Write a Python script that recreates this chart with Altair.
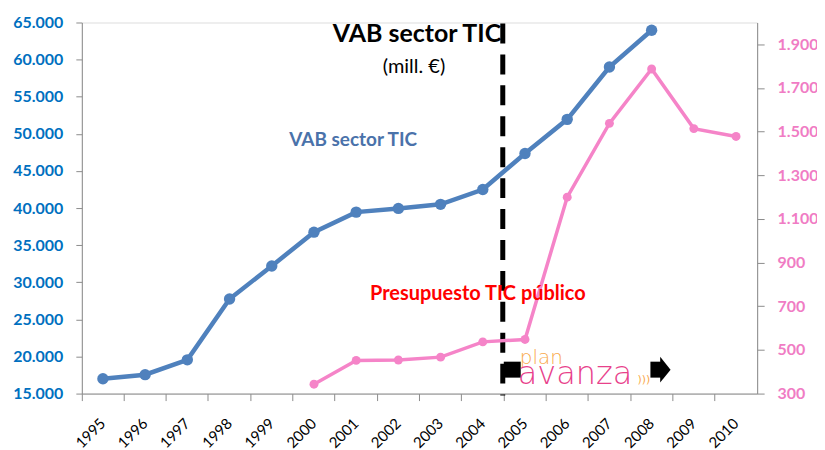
import altair as alt
import pandas as pd

years = [str(y) for y in range(1995, 2011)]
vab_years = years[:14]
vab_values = [17000, 17550, 19550, 27750, 32200, 36750, 39450, 39950, 40500, 42500, 47350, 51950, 59000, 63950]
pres_years = years[5:]
pres_values = [343, 452, 454, 467, 537, 548, 1200, 1538, 1787, 1514, 1478]
left_ticks = list(range(15000, 65001, 5000))
right_ticks = list(range(300, 1901, 200))

BLUE = "#4F81BD"
PINK = "#F584C8"
FONT = "Lato"

vab_df = pd.DataFrame({"year": vab_years, "value": vab_values})
pres_df = pd.DataFrame({"year": pres_years, "value": pres_values})
one = pd.DataFrame({"a": [0]})

x_enc = alt.X(
    "year:O",
    bandPosition=0.5,
    scale=alt.Scale(type="band", domain=years, paddingInner=0, paddingOuter=0),
    axis=alt.Axis(
        title=None, bandPosition=0, labelOffset=0, labelAngle=-45, labelAlign="right",
        labelBaseline="middle", labelPadding=20, labelFont=FONT, labelFontSize=15,
        labelColor="black", tickSize=7, tickColor="#8c8c8c", domainColor="#8c8c8c",
        grid=False,
    ),
)
fmt = "replace(format(datum.value, ','), ',', '.')"

vab = alt.Chart(vab_df).mark_line(
    color=BLUE, strokeWidth=4.5,
    point=alt.OverlayMarkDef(filled=True, size=130, color=BLUE, opacity=1),
).encode(
    x=x_enc,
    y=alt.Y("value:Q", scale=alt.Scale(domain=[15000, 65000], nice=False, zero=False),
            axis=alt.Axis(orient="left", title=None, values=left_ticks, labelExpr=fmt,
                          labelColor="#0070C0", labelFontWeight="bold", labelFont=FONT,
                          labelFontSize=16, labelPadding=13, tickSize=6, tickColor="#8c8c8c",
                          domainColor="#8c8c8c", grid=False)),
)

pres = alt.Chart(pres_df).mark_line(
    color=PINK, strokeWidth=3.5,
    point=alt.OverlayMarkDef(filled=True, size=80, color=PINK, opacity=1),
).encode(
    x=x_enc,
    y=alt.Y("value:Q", scale=alt.Scale(domain=[300, 2000], nice=False, zero=False),
            axis=alt.Axis(orient="right", title=None, values=right_ticks, labelExpr=fmt,
                          labelColor="#F07CC4", labelFontWeight="bold", labelFont=FONT,
                          labelFontSize=16, labelPadding=13, tickSize=7, tickColor="#8c8c8c",
                          domainColor="#8c8c8c", grid=False)),
)

def txt(text, x, y, size, color, weight="normal", font=FONT, align="center", baseline="middle"):
    return alt.Chart(one).mark_text(
        text=text, font=font, fontSize=size, fontWeight=weight, color=color,
        align=align, baseline=baseline,
    ).encode(x=alt.value(x), y=alt.value(y))

dash = alt.Chart(one).mark_rule(color="black", strokeWidth=5, strokeDash=[20, 11]).encode(
    x=alt.value(422), y=alt.value(1), y2=alt.value(374))

bar_left = alt.Chart(one).mark_rule(color="black", strokeWidth=16, strokeCap="butt").encode(
    x=alt.value(423), x2=alt.value(440), y=alt.value(348))
bar_right = alt.Chart(one).mark_rule(color="black", strokeWidth=16, strokeCap="butt").encode(
    x=alt.value(570), x2=alt.value(581), y=alt.value(348))
head = alt.Chart(one).mark_point(
    shape="M -0.4 -1 L 0.4 0 L -0.4 1 Z", filled=True, size=676, color="black", opacity=1
).encode(x=alt.value(585), y=alt.value(348))

layers = [
    dash,
    vab,
    pres,
    txt("VAB sector TIC", 336, 12, 25, "black", "bold"),
    txt("(mill. €)", 333, 45, 20, "black"),
    txt("VAB sector TIC", 272, 118, 19, "#4A72AA", "bold"),
    txt("Presupuesto TIC público", 397, 272, 20, "#FF0000", "bold"),
    bar_left, bar_right, head,
    txt("plan", 439, 342, 20, "#F9A94B", 200, "DejaVu Sans", "left", "alphabetic"),
    txt("avanza", 437, 362, 32, "#E8418B", 200, "DejaVu Sans", "left", "alphabetic"),
    txt(")))", 557, 361, 11, "#F9A94B", "normal", "DejaVu Sans", "left", "alphabetic"),
]

chart = alt.layer(*layers).resolve_scale(y="independent").properties(
    width=677, height=372,
    autosize=alt.AutoSizeParams(type="none"),
    padding={"left": 74, "top": 14, "right": 60, "bottom": 56},
).configure_view(stroke=None).configure(background="white")

chart.save("out.html", embed_options={"renderer": "svg", "actions": False})
